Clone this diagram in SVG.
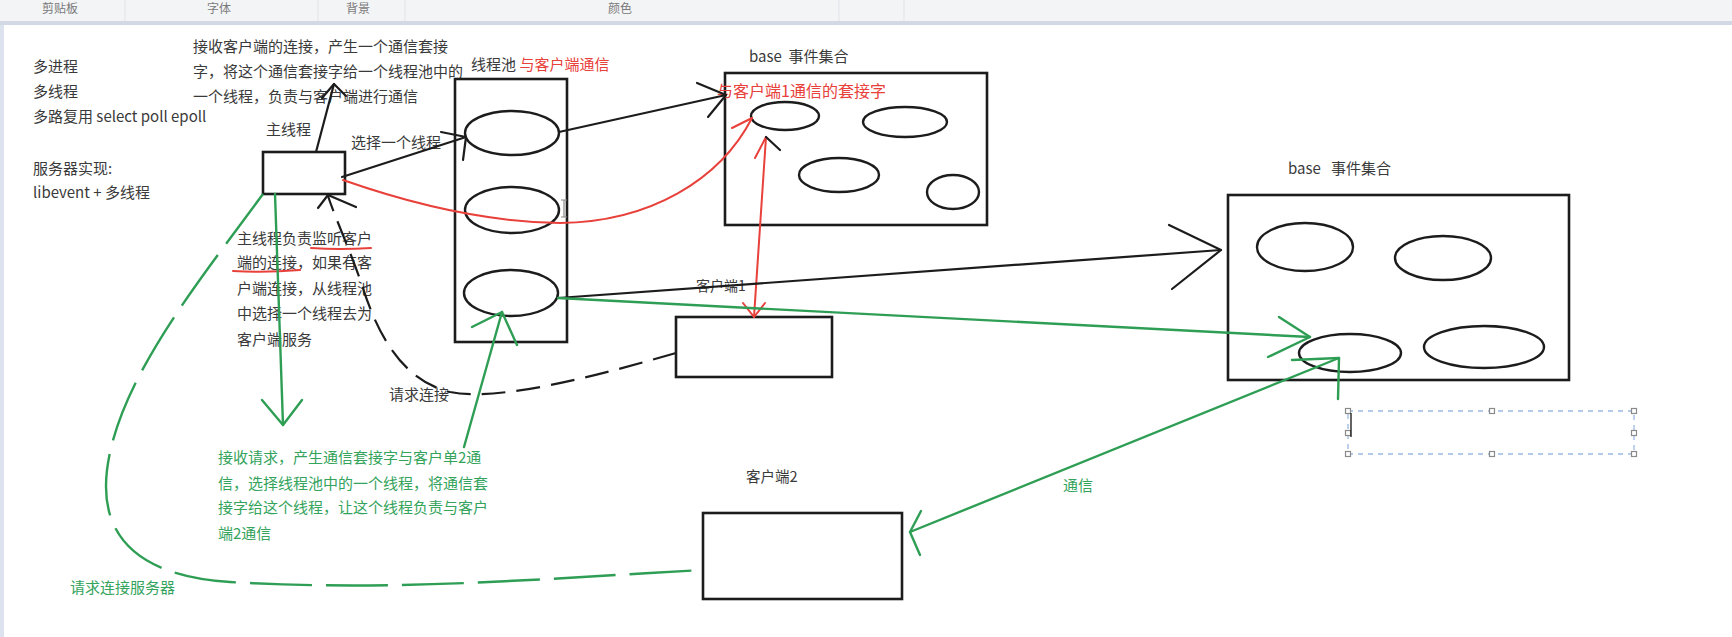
<svg xmlns="http://www.w3.org/2000/svg" width="1732" height="637" viewBox="0 0 1732 637">
<defs>
<style>
.t{font-family:"Noto Sans CJK SC","Noto Sans",sans-serif;font-size:15px;fill:#3a3a3a}
.tb{font-family:"Noto Sans CJK SC",sans-serif;font-size:12px;fill:#7a7a7a;text-anchor:middle}
.red{fill:#e8403a}
.grn{fill:#34a35c}
.box{fill:none;stroke:#1c1c1c;stroke-width:2.6}
.ell{fill:none;stroke:#1c1c1c;stroke-width:2.4}
.k{fill:none;stroke:#1c1c1c;stroke-width:2.2;stroke-linecap:round;stroke-linejoin:round}
.r{fill:none;stroke:#e8403a;stroke-width:2;stroke-linecap:round;stroke-linejoin:round}
.g{fill:none;stroke:#2f9e55;stroke-width:2.4;stroke-linecap:round;stroke-linejoin:round}
.kd{stroke-dasharray:24 11;stroke-linecap:butt}
.gd{stroke-dasharray:62 14;stroke-linecap:butt}
.sel{fill:none;stroke:#9cb9e2;stroke-width:1.3;stroke-dasharray:5 5}
.h{fill:#fff;stroke:#8a8a8a;stroke-width:1.2}
</style>
</defs>
<rect width="1732" height="637" fill="#ffffff"/>
<g id="toolbar">
<rect x="0" y="0" width="1732" height="21" fill="#f3f4f6"/>
<rect x="0" y="21" width="1732" height="4" fill="#d3d9e4"/>
<g stroke="#e1e3e7" stroke-width="1">
<line x1="125" y1="0" x2="125" y2="21"/><line x1="318" y1="0" x2="318" y2="21"/><line x1="405" y1="0" x2="405" y2="21"/><line x1="839" y1="0" x2="839" y2="21"/><line x1="904" y1="0" x2="904" y2="21"/>
</g>
<text class="tb" x="60" y="13">剪贴板</text>
<text class="tb" x="219" y="13">字体</text>
<text class="tb" x="358" y="13">背景</text>
<text class="tb" x="620" y="13">颜色</text>
<rect x="0" y="25" width="4" height="612" fill="#dde3ee"/>
</g>
<g id="left-notes">
<text class="t" x="33" y="72">多进程</text>
<text class="t" x="33" y="97">多线程</text>
<text class="t" x="33" y="122">多路复用 select poll epoll</text>
<text class="t" x="33" y="174">服务器实现:</text>
<text class="t" x="33" y="198">libevent + 多线程</text>
</g>
<g id="top-note">
<text class="t" x="193" y="52">接收客户端的连接，产生一个通信套接</text>
<text class="t" x="193" y="77">字，将这个通信套接字给一个线程池中的</text>
<text class="t" x="193" y="102">一个线程，负责与客户端进行通信</text>
</g>
<g id="main-thread">
<text class="t" x="266" y="135">主线程</text>
<rect class="box" x="263" y="152" width="82" height="42"/>
</g>
<g id="main-note">
<text class="t" x="237" y="244">主线程负责监听客户</text>
<text class="t" x="237" y="268">端的连接，如果有客</text>
<text class="t" x="237" y="294">户端连接，从线程池</text>
<text class="t" x="237" y="319">中选择一个线程去为</text>
<text class="t" x="237" y="345">客户端服务</text>
<path class="r" d="M311,248 Q340,250 371,248" stroke-width="1.6"/>
<path class="r" d="M233,271 Q265,273 300,270" stroke-width="1.6"/>
</g>
<g id="thread-pool">
<text class="t" x="471" y="70">线程池 <tspan class="red">与客户端通信</tspan></text>
<rect class="box" x="455" y="79" width="112" height="263"/>
<ellipse class="ell" cx="512" cy="133" rx="47" ry="22"/>
<ellipse class="ell" cx="512" cy="210" rx="47" ry="23"/>
<ellipse class="ell" cx="511" cy="293" rx="47" ry="23"/>
<path d="M561,200 h6 M564,200 v17 M561,217 h6" stroke="#888" stroke-width="1.2" fill="none"/>
</g>
<g id="base-1">
<text class="t" x="749" y="62">base&#160;&#160;事件集合</text>
<rect class="box" x="725" y="73" width="262" height="152"/>
<text class="t red" x="717" y="97" style="font-size:16px">与客户端1通信的套接字</text>
<ellipse class="ell" cx="785" cy="116" rx="34" ry="14"/>
<ellipse class="ell" cx="905" cy="122" rx="42" ry="15"/>
<ellipse class="ell" cx="839" cy="175" rx="40" ry="17"/>
<ellipse class="ell" cx="953" cy="192" rx="26" ry="17"/>
</g>
<g id="base-2">
<text class="t" x="1288" y="174">base&#160;&#160;&#160;事件集合</text>
<rect class="box" x="1228" y="195" width="341" height="185"/>
<ellipse class="ell" cx="1305" cy="247" rx="48" ry="24"/>
<ellipse class="ell" cx="1443" cy="258" rx="48" ry="22"/>
<ellipse class="ell" cx="1350" cy="353" rx="51" ry="19"/>
<ellipse class="ell" cx="1484" cy="347" rx="60" ry="21"/>
</g>
<g id="client-1">
<text class="t" x="696" y="291" style="font-size:14px">客户端1</text>
<rect class="box" x="676" y="317" width="156" height="60"/>
</g>
<g id="client-2">
<text class="t" x="746" y="482" style="font-size:14.5px">客户端2</text>
<rect class="box" x="703" y="513" width="199" height="86"/>
</g>
<g id="green-note">
<text class="t grn" x="218" y="463">接收请求，产生通信套接字与客户单2通</text>
<text class="t grn" x="218" y="489">信，选择线程池中的一个线程，将通信套</text>
<text class="t grn" x="218" y="513">接字给这个线程，让这个线程负责与客户</text>
<text class="t grn" x="218" y="539">端2通信</text>
</g>
<g id="labels">
<text class="t" x="351" y="148">选择一个线程</text>
<text class="t" x="389" y="400">请求连接</text>
<text class="t grn" x="70" y="593">请求连接服务器</text>
<text class="t grn" x="1063" y="491">通信</text>
</g>
<g id="selection">
<rect class="sel" x="1348" y="411" width="286" height="43"/>
<rect class="h" x="1345.5" y="408.5" width="5" height="5"/><rect class="h" x="1489.5" y="408.5" width="5" height="5"/><rect class="h" x="1631.5" y="408.5" width="5" height="5"/>
<rect class="h" x="1345.5" y="430.5" width="5" height="5"/><rect class="h" x="1631.5" y="430.5" width="5" height="5"/>
<rect class="h" x="1345.5" y="451.5" width="5" height="5"/><rect class="h" x="1489.5" y="451.5" width="5" height="5"/><rect class="h" x="1631.5" y="451.5" width="5" height="5"/>
<line x1="1351" y1="413" x2="1351" y2="437" stroke="#222" stroke-width="1.4"/>
</g>
<g id="connectors">
<line class="k" x1="316" y1="152" x2="334" y2="84"/>
<polyline class="k" points="322,98 334,84 346,96"/>
<line class="k" x1="342" y1="177" x2="466" y2="137"/>
<polyline class="k" points="441,132 466,137 463,160"/>
<line class="k" x1="559" y1="132" x2="726" y2="95"/>
<polyline class="k" points="697,83 726,95 708,117"/>
<path class="r" d="M343,180 C400,200 480,222 560,223 C650,222 720,180 752,118"/>
<polyline class="r" points="732,128 752,118"/>
<line class="r" x1="754" y1="317" x2="766" y2="137"/>
<polyline class="r" points="755,158 766,137"/>
<line class="k" x1="766" y1="137" x2="780" y2="150"/>
<polyline class="r" points="743,303 754,317 765,303"/>
<line class="k" x1="558" y1="298" x2="1221" y2="250"/>
<polyline class="k" points="1169,225 1221,250 1172,289"/>
<line class="g" x1="558" y1="298" x2="1310" y2="337"/>
<polyline class="g" points="1279,317 1310,337 1268,357"/>
<line class="g" x1="910" y1="532" x2="1339" y2="358"/>
<polyline class="g" points="921,511 910,532 920,555"/>
<polyline class="g" points="1292,360 1339,358 1338,399"/>
<path class="k kd" d="M676,353 C600,375 500,402 450,392 C400,380 376,330 362,285 C350,250 336,220 328,196"/>
<polyline class="k" points="318,208 328,195 356,207"/>
<line class="g" x1="275" y1="194" x2="283" y2="425"/>
<polyline class="g" points="262,400 283,425 302,400"/>
<path class="g gd" d="M263,194 C200,280 118,380 107,470 C98,545 150,577 230,582 C400,592 550,578 703,570"/>
<line class="g" x1="464" y1="447" x2="502" y2="312"/>
<polyline class="g" points="472,327 502,312 517,345"/>
</g>
</svg>
